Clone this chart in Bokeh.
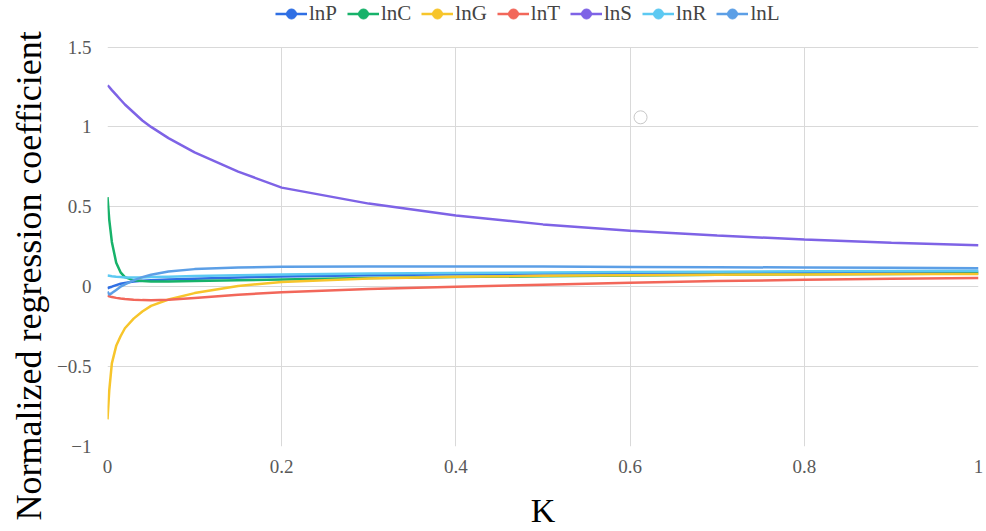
from bokeh.plotting import figure
from bokeh.models import Legend, LegendItem, FixedTicker, ColumnDataSource, Title
from bokeh.embed import file_html
from bokeh.resources import INLINE

K = [0, 0.002, 0.005, 0.01, 0.015, 0.02, 0.03, 0.04, 0.05, 0.07, 0.1, 0.15,
     0.2, 0.3, 0.4, 0.5, 0.6, 0.7, 0.8, 0.9, 1.0]

lnP = [-0.01, -0.005, 0.0, 0.01, 0.018, 0.024, 0.032, 0.037, 0.04, 0.045, 0.05, 0.058,
       0.064, 0.072, 0.078, 0.082, 0.085, 0.088, 0.09, 0.092, 0.093]
lnC = [0.56, 0.42, 0.28, 0.15, 0.09, 0.06, 0.04, 0.035, 0.033, 0.033, 0.035, 0.04,
       0.045, 0.055, 0.06, 0.065, 0.07, 0.075, 0.078, 0.08, 0.082]
lnG = [-0.83, -0.65, -0.48, -0.37, -0.31, -0.26, -0.2, -0.155, -0.12, -0.08, -0.04, 0.005,
       0.03, 0.052, 0.063, 0.068, 0.072, 0.075, 0.077, 0.079, 0.08]
lnT = [-0.055, -0.06, -0.065, -0.07, -0.074, -0.077, -0.081, -0.084, -0.085, -0.082, -0.07, -0.05,
       -0.035, -0.015, 0.0, 0.012, 0.025, 0.035, 0.043, 0.05, 0.054]
lnS = [1.26, 1.25, 1.23, 1.2, 1.17, 1.14, 1.09, 1.04, 1.0, 0.93, 0.84, 0.72,
       0.62, 0.52, 0.445, 0.39, 0.35, 0.32, 0.295, 0.275, 0.26]
lnR = [0.07, 0.068, 0.065, 0.062, 0.06, 0.058, 0.057, 0.058, 0.06, 0.063, 0.067, 0.072,
       0.076, 0.082, 0.086, 0.089, 0.092, 0.094, 0.096, 0.098, 0.1]
lnL = [-0.03, -0.05, -0.04, -0.02, 0.0, 0.015, 0.04, 0.06, 0.075, 0.095, 0.11, 0.12,
       0.125, 0.127, 0.127, 0.126, 0.124, 0.122, 0.12, 0.118, 0.116]

series_names = ["lnP", "lnC", "lnG", "lnT", "lnS", "lnR", "lnL"]
series_values = [lnP, lnC, lnG, lnT, lnS, lnR, lnL]
colors = ["#2F6FE4", "#17B26A", "#F7C52B", "#F2675A", "#7E63E6", "#5CC9F2", "#5C9FE6"]

stray_x = [0.612]
stray_y = [1.06]

x_ticks = [0, 0.2, 0.4, 0.6, 0.8, 1]
x_labels = ["0", "0.2", "0.4", "0.6", "0.8", "1"]
y_ticks = [-1, -0.5, 0, 0.5, 1, 1.5]
y_labels = ["\u22121", "\u22120.5", "0", "0.5", "1", "1.5"]

FONT = "Liberation Serif"
Y_MIN, Y_MAX = -1, 1.5
Y_TOP = 1.791  # headroom above the plotted area for the legend

p = figure(width=986, height=531, output_backend="svg", toolbar_location=None,
           x_range=(0, 1), y_range=(Y_MIN, Y_TOP),
           min_border_left=107, min_border_right=8, min_border_top=0, min_border_bottom=80)
p.outline_line_color = None
p.background_fill_color = "white"

for ax, ticks, labels in ((p.xaxis[0], x_ticks, x_labels), (p.yaxis[0], y_ticks, y_labels)):
    ax.ticker = FixedTicker(ticks=ticks)
    ax.major_label_overrides = {t: l for t, l in zip(ticks, labels)}
    ax.axis_line_color = None
    ax.major_tick_line_color = None
    ax.minor_tick_line_color = None
    ax.major_label_text_font = FONT
    ax.major_label_text_font_size = "19px"
    ax.major_label_text_color = "#595959"
    ax.axis_label_text_font = FONT
    ax.axis_label_text_font_style = "normal"
    ax.axis_label_text_color = "#000000"

p.xaxis.axis_label = "K"
p.xaxis.axis_label_text_font_size = "34px"
p.xaxis.major_label_standoff = 7
p.xaxis.axis_label_standoff = 16
p.yaxis.major_label_standoff = 10
p.yaxis.bounds = (Y_MIN, Y_MAX)

ylabel = Title(text="Normalized regression coefficient", align="left", offset=-74,
               text_font=FONT, text_font_size="36px", text_font_style="normal",
               text_color="#000000", standoff=12)
p.add_layout(ylabel, "left")

p.xgrid.grid_line_color = "#D9D9D9"
p.ygrid.grid_line_color = "#D9D9D9"
p.xgrid.ticker = FixedTicker(ticks=x_ticks)
p.ygrid.ticker = FixedTicker(ticks=y_ticks)
p.xgrid.cross_bounds = (Y_MIN, Y_MAX)

items = []
for name, vals, c in zip(series_names, series_values, colors):
    src = ColumnDataSource(dict(x=K, y=vals))
    r = p.line("x", "y", source=src, line_color=c, line_width=2.5)
    # zero-size markers: invisible on the plot, but give the legend its dot
    m = p.scatter("x", "y", source=src, marker="circle", size=0,
                  fill_color=c, line_color=c)
    items.append(LegendItem(label=name, renderers=[r, m]))

p.scatter(x=stray_x, y=stray_y, marker="circle", size=13, fill_color="white",
          line_color="#C8C8C8", line_width=1)

legend = Legend(items=items, orientation="horizontal", location=(168, 420),
                label_text_font=FONT, label_text_font_size="21px",
                glyph_width=32, glyph_height=25, label_standoff=2, spacing=10,
                padding=2, margin=0, background_fill_alpha=0, border_line_color=None)
p.add_layout(legend, "center")

open("out.html", "w").write(file_html(p, INLINE))
